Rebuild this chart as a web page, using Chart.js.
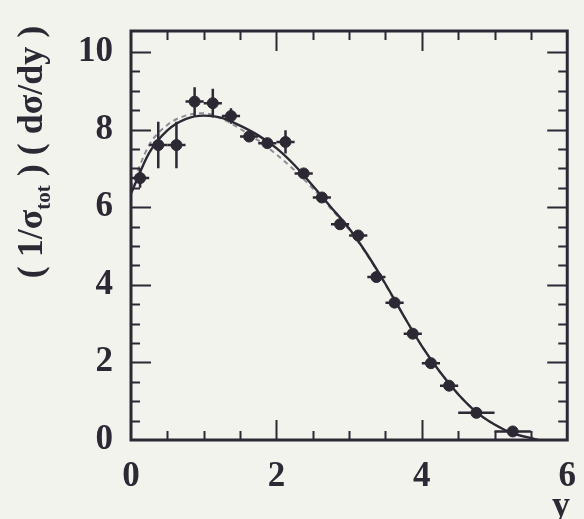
<!DOCTYPE html>
<html>
<head>
<meta charset="utf-8">
<script src="https://cdn.jsdelivr.net/npm/chart.js@4"></script>
<style>
  html, body { margin: 0; padding: 0; background: #f3f3ee; }
  #wrap { width: 584px; height: 519px; }
</style>
</head>
<body>
<div id="wrap"><canvas id="rapidity"></canvas></div>
<script>
'use strict';
// measured points: bin centre, value, stat. error, half bin width
const binCenters = [0.125, 0.375, 0.625, 0.875, 1.125, 1.375, 1.625, 1.875, 2.125, 2.375,
                    2.625, 2.875, 3.125, 3.375, 3.625, 3.875, 4.125, 4.375, 4.75, 5.25];
const dsdyValues = [6.75, 7.6, 7.6, 8.72, 8.68, 8.35, 7.82, 7.65, 7.68, 6.87,
                    6.25, 5.56, 5.27, 4.2, 3.54, 2.74, 1.98, 1.4, 0.7, 0.22];
const statErrors = [0.25, 0.6, 0.6, 0.37, 0.37, 0.2, 0.12, 0.12, 0.3, 0.12,
                    0.12, 0.12, 0.12, 0.12, 0.12, 0.12, 0.12, 0.1, 0.1, 0.08];
const binHalfWidths = [0.125, 0.125, 0.125, 0.125, 0.125, 0.125, 0.125, 0.125, 0.125, 0.125,
                       0.125, 0.125, 0.125, 0.125, 0.125, 0.125, 0.125, 0.125, 0.25, 0.25];

// model curves
const curveX    = [0, 0.25, 0.5, 0.75, 1.0, 1.25, 1.5, 1.75, 2.0, 2.25, 2.5, 2.75,
                   3.0, 3.25, 3.5, 3.75, 4.0, 4.25, 4.5, 4.75, 5.0, 5.25, 5.5, 5.6];
const fitSolid  = [6.35, 7.4, 7.98, 8.27, 8.36, 8.3, 8.1, 7.85, 7.52, 7.08, 6.55, 6.0,
                   5.45, 4.78, 4.02, 3.2, 2.42, 1.75, 1.18, 0.72, 0.4, 0.17, 0.05, 0.0];
const fitDashed = [6.5, 7.6, 8.12, 8.36, 8.42, 8.28, 8.02, 7.72, 7.36, 6.95, 6.48, 5.96,
                   5.42, 4.76, 4.0, 3.2, 2.42, 1.75, 1.18, 0.72, 0.4, 0.17, 0.05, 0.0];

const xTicks = [0, 2, 4, 6];
const yTicks = [0, 2, 4, 6, 8, 10];
const xMinorTicks = [0.5, 1, 1.5, 2, 2.5, 3, 3.5, 4, 4.5, 5, 5.5];
const yMinorTicks = [0.5, 1, 1.5, 2, 2.5, 3, 3.5, 4, 4.5, 5, 5.5, 6, 6.5, 7, 7.5, 8, 8.5, 9, 9.5, 10];

const INK = '#2c2834';
const SERIF = '"Liberation Serif", "DejaVu Serif", serif';
const LABEL_FONT = { family: SERIF, size: 35, weight: 'bold' };

// frame with inward ticks on all four sides
const framePlugin = {
    id: 'frame',
    afterDraw(chart) {
        const c = chart.ctx;
        const a = chart.chartArea;
        const sx = chart.scales.x;
        const sy = chart.scales.y;
        c.save();
        c.strokeStyle = INK;
        c.lineWidth = 2;
        xMinorTicks.forEach(v => {
            const px = Math.round(sx.getPixelForValue(v)) + 0.5;
            const len = yTicks.includes(v) ? 20 : 9;
            c.beginPath();
            c.moveTo(px, a.bottom);
            c.lineTo(px, a.bottom - len);
            c.moveTo(px, a.top);
            c.lineTo(px, a.top + len);
            c.stroke();
        });
        yMinorTicks.forEach(v => {
            const py = Math.round(sy.getPixelForValue(v)) + 0.5;
            const len = yTicks.includes(v) ? 20 : 9;
            c.beginPath();
            c.moveTo(a.left, py);
            c.lineTo(a.left + len, py);
            c.moveTo(a.right, py);
            c.lineTo(a.right - len, py);
            c.stroke();
        });
        c.lineWidth = 3;
        c.strokeRect(a.left, a.top, a.right - a.left, a.bottom - a.top);
        c.restore();
    }
};

// error bars for the measured points
const errorBarPlugin = {
    id: 'errorBars',
    afterDatasetsDraw(chart) {
        const { ctx, scales: { x, y } } = chart;
        ctx.save();
        ctx.strokeStyle = INK;
        ctx.lineWidth = 2.5;
        binCenters.forEach((c, i) => {
            const v = dsdyValues[i];
            const px = x.getPixelForValue(c);
            const py = y.getPixelForValue(v);
            ctx.beginPath();
            ctx.moveTo(x.getPixelForValue(c - binHalfWidths[i]), py);
            ctx.lineTo(x.getPixelForValue(c + binHalfWidths[i]), py);
            ctx.moveTo(px, y.getPixelForValue(v - statErrors[i]));
            ctx.lineTo(px, y.getPixelForValue(v + statErrors[i]));
            ctx.stroke();
        });
        ctx.restore();
    }
};

// axis titles (y title has a subscript)
const titlesPlugin = {
    id: 'titles',
    afterDraw(chart) {
        const { ctx } = chart;
        const big = 'bold 36px ' + SERIF;
        const small = 'bold 21px ' + SERIF;
        ctx.save();
        ctx.fillStyle = INK;
        ctx.textBaseline = 'alphabetic';
        ctx.font = big;
        ctx.textAlign = 'center';
        ctx.fillText('y', 561, 516);

        ctx.translate(42, 152);
        ctx.rotate(-Math.PI / 2);
        const parts = [
            { t: '( 1/σ', f: big, dy: 0 },
            { t: 'tot', f: small, dy: 8 },
            { t: ' ) ( dσ/dy )', f: big, dy: 0 }
        ];
        let total = 0;
        parts.forEach(p => { ctx.font = p.f; p.w = ctx.measureText(p.t).width; total += p.w; });
        let cx = -total / 2;
        ctx.textAlign = 'left';
        parts.forEach(p => {
            ctx.font = p.f;
            ctx.fillText(p.t, cx, p.dy);
            cx += p.w;
        });
        ctx.restore();
    }
};

const ctx = document.getElementById('rapidity').getContext('2d');
new Chart(ctx, {
    type: 'scatter',
    data: {
        datasets: [
            {
                label: 'data',
                data: binCenters.map((c, i) => ({ x: c, y: dsdyValues[i] })),
                backgroundColor: INK,
                borderColor: INK,
                pointRadius: 5.5,
                pointStyle: 'circle',
                order: 0
            },
            {
                label: 'fit',
                data: curveX.map((c, i) => ({ x: c, y: fitSolid[i] })),
                showLine: true,
                borderColor: INK,
                borderWidth: 2.4,
                pointRadius: 0,
                cubicInterpolationMode: 'monotone',
                order: 1
            },
            {
                label: 'model',
                data: curveX.map((c, i) => ({ x: c, y: fitDashed[i] })),
                showLine: true,
                borderColor: '#8f8c98',
                borderWidth: 2,
                borderDash: [5, 4],
                pointRadius: 0,
                cubicInterpolationMode: 'monotone',
                order: 2
            }
        ]
    },
    options: {
        responsive: true,
        maintainAspectRatio: false,
        animation: false,
        layout: { padding: { top: 13, right: 7, left: 0, bottom: 0 } },
        plugins: { legend: { display: false }, tooltip: { enabled: false } },
        scales: {
            x: {
                type: 'linear',
                min: 0, max: 6,
                grid: { display: false },
                border: { display: false },
                afterBuildTicks: s => { s.ticks = xTicks.map(v => ({ value: v })); },
                afterFit: s => { s.height = 79; },
                ticks: { color: INK, font: LABEL_FONT, padding: 8, maxRotation: 0 }
            },
            y: {
                type: 'linear',
                min: 0, max: 10.54,
                grid: { display: false },
                border: { display: false },
                afterBuildTicks: s => { s.ticks = yTicks.map(v => ({ value: v })); },
                afterFit: s => { s.width = 131; },
                ticks: { color: INK, font: LABEL_FONT, padding: 10 }
            }
        }
    },
    plugins: [framePlugin, errorBarPlugin, titlesPlugin]
});
</script>
</body>
</html>
